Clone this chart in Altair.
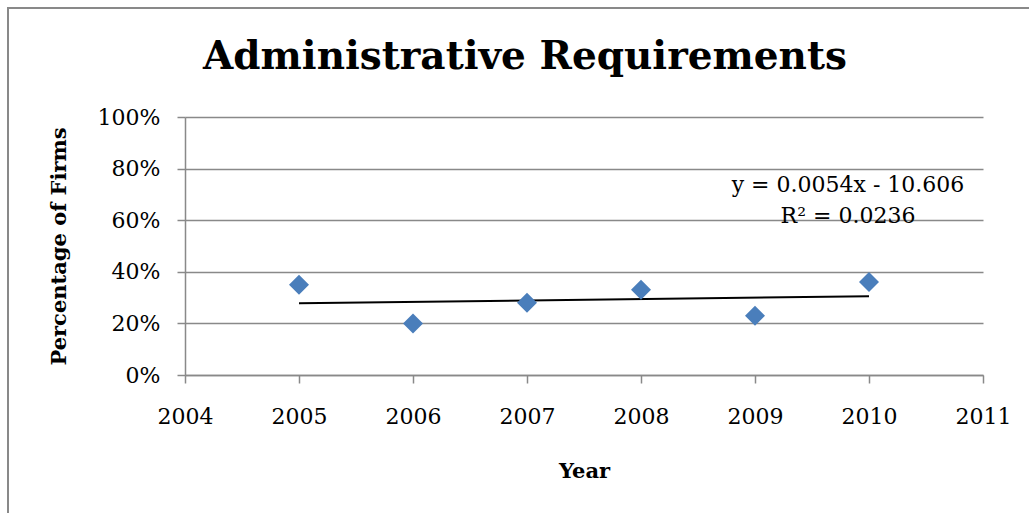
import altair as alt
import numpy as np
import pandas as pd

# Share of firms citing administrative requirements, by survey year
years = [2005, 2006, 2007, 2008, 2009, 2010]
share = [0.35, 0.20, 0.28, 0.33, 0.23, 0.36]

x_ticks = [2004, 2005, 2006, 2007, 2008, 2009, 2010, 2011]
y_ticks = [0.0, 0.2, 0.4, 0.6, 0.8, 1.0]

chart_title = "Administrative Requirements"
x_title = "Year"
y_title = "Percentage of Firms"

# Linear trend fitted to the points, shown as an equation label
slope, intercept = np.polyfit(years, share, 1)
r2 = float(np.corrcoef(years, share)[0, 1] ** 2)
sign = "-" if intercept < 0 else "+"
eq_lines = [f"y = {slope:.4f}x {sign} {abs(intercept):.3f}", f"R² = {r2:.4f}"]

df = pd.DataFrame({"year": years, "share": share})

W, H = 798, 258
LEFT, TOP = 185, 117
SERIF = "DejaVu Serif"
GRAY = "#898989"
BLUE = "#4a7ebb"

x_enc = alt.X(
    "year:Q",
    scale=alt.Scale(domain=[2004, 2011], nice=False, zero=False),
    axis=alt.Axis(
        values=x_ticks, format="d", grid=False, labelFlush=False,
        labelOverlap=False, labelPadding=23, title=x_title,
        titleX=W / 2, titleY=102, titleBaseline="alphabetic",
    ),
)
y_enc = alt.Y(
    "share:Q",
    scale=alt.Scale(domain=[0, 1], nice=False),
    axis=alt.Axis(
        values=y_ticks, format=".0%", grid=True, labelPadding=17,
        title=y_title, titleAngle=270, titleX=-120, titleY=H / 2,
        titleAlign="center", titleBaseline="alphabetic",
    ),
)

points = alt.Chart(df).mark_point(
    shape="diamond", filled=True, size=400, color=BLUE, opacity=1
).encode(x=x_enc, y=y_enc)

trend = alt.Chart(df).transform_regression("year", "share").mark_line(
    color="black", strokeWidth=2
).encode(x=x_enc, y=y_enc)


def label(text, px, py, size, weight="normal"):
    """A single line of text placed in view pixel coordinates."""
    return alt.Chart(pd.DataFrame({"t": [text]})).mark_text(
        font=SERIF, fontSize=size, fontWeight=weight, color="black",
        align="center", baseline="alphabetic",
    ).encode(text="t:N", x=alt.value(px), y=alt.value(py))


heading = label(chart_title, 340, -48, 39, "bold")
eq_top = label(eq_lines[0], 663, 75, 22)
eq_bottom = label(eq_lines[1], 663, 106, 22)

# Outer chart frame (left and top edges)
frame_left = alt.Chart(pd.DataFrame({"k": [0]})).mark_rule(
    color=GRAY, strokeWidth=2
).encode(x=alt.value(-177), y=alt.value(-110), y2=alt.value(420))
frame_top = alt.Chart(pd.DataFrame({"k": [0]})).mark_rule(
    color=GRAY, strokeWidth=2
).encode(x=alt.value(-178), x2=alt.value(870), y=alt.value(-109))

chart = (
    alt.layer(frame_left, frame_top, heading, trend, points, eq_top, eq_bottom)
    .properties(
        width=W, height=H,
        autosize=alt.AutoSizeParams(type="none"),
        padding={"left": LEFT, "top": TOP, "right": 1029 - LEFT - W, "bottom": 513 - TOP - H},
        background="white",
    )
    .configure_view(stroke=None)
    .configure_axis(
        domainColor=GRAY, domainWidth=1.5, gridColor=GRAY, gridWidth=1.5,
        tickColor=GRAY, tickWidth=1.5, tickSize=8,
        labelFont=SERIF, labelFontSize=22, labelColor="black",
        titleFont=SERIF, titleFontSize=21, titleFontWeight="bold", titleColor="black",
    )
)

chart.save("out.html", embed_options={"renderer": "svg", "actions": False})
